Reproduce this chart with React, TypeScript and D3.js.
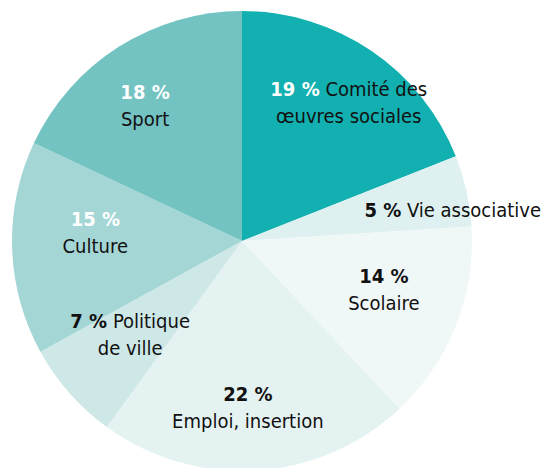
import React from "react";
import * as d3 from "d3";

const categories = ["Comité des œuvres sociales", "Vie associative", "Scolaire", "Emploi, insertion", "Politique de ville", "Culture", "Sport"];
const values = [19, 5, 14, 22, 7, 15, 18];
const pctLabels = ["19 %", "5 %", "14 %", "22 %", "7 %", "15 %", "18 %"];
// label layout: lines (first line after percentage), whether percentage sits inline
const labelLines = [["Comité des", "œuvres sociales"], ["Vie associative"], ["Scolaire"], ["Emploi, insertion"], ["Politique", "de ville"], ["Culture"], ["Sport"]];
const inlinePct = [true, true, false, false, true, false, false];

const colors = ["#12b0b0", "#def0f0", "#f0f7f7", "#e5f2f2", "#cde8e6", "#a4d6d5", "#73c3c2"];
const pctColors = ["#ffffff", "#111", "#111", "#111", "#111", "#ffffff", "#ffffff"];
const labelRadius = [175, 213, 150, 167, 146, 147, 167];
const labelAngleShift = [3.4, 4.2, -2.6, 1.6, 1.4, 5.3, -3.1];

const W = 543, H = 468;
const cx = 242, cy = 241, R = 230;
const FONT = "'Liberation Sans Narrow', 'DejaVu Sans Condensed', 'Roboto', sans-serif";

export default function App() {
  const pie = d3.pie<number>().sort(null).value((d) => d);
  const arcs = pie(values);
  const arc = d3.arc<d3.PieArcDatum<number>>().innerRadius(0).outerRadius(R);
  const lh = 27;
  return (
    <svg width={W} height={H} style={{ position: "absolute", left: 0, top: 0, background: "#fff" }} fontFamily={FONT}>
      <g transform={`translate(${cx},${cy})`}>
        {arcs.map((a, i) => (
          <path key={i} d={arc(a) || ""} fill={colors[i]} />
        ))}
        {arcs.map((a, i) => {
          const mid = (a.startAngle + a.endAngle) / 2 + (labelAngleShift[i] * Math.PI) / 180;
          const x = labelRadius[i] * Math.sin(mid);
          const y = -labelRadius[i] * Math.cos(mid);
          const lines = labelLines[i];
          const nLines = inlinePct[i] ? lines.length : lines.length + 1;
          const y0 = y - ((nLines - 1) * lh) / 2 + 7;
          return (
            <g key={i} fontSize={20}>
              {inlinePct[i] ? (
                <>
                  <text x={x} y={y0} textAnchor="middle">
                    <tspan fill={pctColors[i]} fontWeight={700}>{pctLabels[i]}</tspan>
                    <tspan fill="#111"> {lines[0]}</tspan>
                  </text>
                  {lines.slice(1).map((l, j) => (
                    <text key={j} x={x} y={y0 + (j + 1) * lh} textAnchor="middle" fill="#111">{l}</text>
                  ))}
                </>
              ) : (
                <>
                  <text x={x} y={y0} textAnchor="middle" fill={pctColors[i]} fontWeight={700}>{pctLabels[i]}</text>
                  {lines.map((l, j) => (
                    <text key={j} x={x} y={y0 + (j + 1) * lh} textAnchor="middle" fill="#111">{l}</text>
                  ))}
                </>
              )}
            </g>
          );
        })}
      </g>
    </svg>
  );
}
